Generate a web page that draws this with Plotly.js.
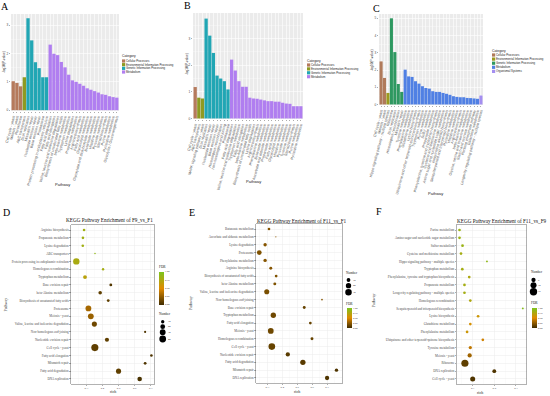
<!DOCTYPE html>
<html><head><meta charset="utf-8">
<script src="https://cdn.plot.ly/plotly-3.0.1.min.js"></script>
<style>html,body{margin:0;padding:0;background:#fff}#chart{width:550px;height:396px}</style>
</head><body><div id="chart"></div>
<script>
// ================= DATA =================
const categoryLabels = {CP:"Cellular Processes",EIP:"Environmental Information Processing",GIP:"Genetic Information Processing",M:"Metabolism",OS:"Organismal Systems"};

// Panel A
const pathwaysA = ["Cell cycle - yeast","Meiosis - yeast","Peroxisome","ABC transporters","DNA replication","Mismatch repair","Nucleotide excision repair","Base excision repair","Proteasome","Protein processing in endoplasmic reticulum","Fatty acid degradation","Fatty acid elongation","Valine, leucine and isoleucine degradation","Biosynthesis of unsaturated fatty acids","beta-Alanine metabolism","Tryptophan metabolism","Lysine degradation","Propanoate metabolism","Arginine biosynthesis","Fatty acid metabolism","Glycerolipid metabolism","Glyoxylate and dicarboxylate metabolism","Butanoate metabolism","Histidine metabolism","Pyruvate metabolism","Steroid biosynthesis","Purine metabolism","Pyrimidine metabolism","Glycolysis / Gluconeogenesis"];
const categoryA = ["CP","CP","CP","EIP","GIP","GIP","GIP","GIP","GIP","GIP","M","M","M","M","M","M","M","M","M","M","M","M","M","M","M","M","M","M","M"];
const valuesA = [1.02,0.96,0.84,1.16,3.24,2.46,1.69,1.48,1.16,1.16,2.31,1.99,1.94,1.70,1.51,1.25,1.05,1.00,0.93,0.86,0.77,0.72,0.67,0.62,0.56,0.54,0.49,0.46,0.44];
const legendCatsA = ["CP","EIP","GIP","M"];

// Panel B
const pathwaysB = ["Cell cycle - yeast","ABC transporters","MAPK signaling pathway - yeast","DNA replication","Mismatch repair","Nucleotide excision repair","Base excision repair","Homologous recombination","Non-homologous end-joining","Proteasome","Fatty acid degradation","Valine, leucine and isoleucine degradation","Tryptophan metabolism","Fatty acid elongation","beta-Alanine metabolism","Biosynthesis of unsaturated fatty acids","Lysine degradation","Arginine biosynthesis","Phenylalanine metabolism","Butanoate metabolism","Ascorbate and aldarate metabolism","Propanoate metabolism","Fatty acid metabolism","Glycerolipid metabolism","Histidine metabolism","Pyruvate metabolism","Tyrosine metabolism","Steroid biosynthesis","Purine metabolism","Pyrimidine metabolism"];
const categoryB = ["CP","EIP","EIP","GIP","GIP","GIP","GIP","GIP","GIP","GIP","M","M","M","M","M","M","M","M","M","M","M","M","M","M","M","M","M","M","M","M"];
const valuesB = [1.18,0.78,0.75,3.75,3.11,2.46,1.61,1.50,1.40,1.09,2.21,1.80,1.40,1.19,1.19,0.78,0.75,0.74,0.71,0.68,0.65,0.65,0.63,0.63,0.59,0.56,0.55,0.46,0.46,0.46];
const legendCatsB = ["CP","EIP","GIP","M"];

// Panel C
const pathwaysC = ["Cell cycle - yeast","Meiosis - yeast","Hippo signaling pathway - multiple species","Ribosome","DNA replication","Homologous recombination","Mismatch repair","Tyrosine metabolism","Phenylalanine metabolism","Glutathione metabolism","Lysine biosynthesis","Ubiquinone and other terpenoid-quinone biosynthesis","Tryptophan metabolism","Purine metabolism","Sulfur metabolism","Propanoate metabolism","Phenylalanine, tyrosine and tryptophan biosynthesis","Cysteine and methionine metabolism","Amino sugar and nucleotide sugar metabolism","Isoquinoline alkaloid biosynthesis","Sesquiterpenoid and triterpenoid biosynthesis","Pyrimidine metabolism","Histidine metabolism","Arginine biosynthesis","beta-Alanine metabolism","Glycine, serine and threonine metabolism","Starch and sucrose metabolism","Pentose phosphate pathway","Galactose metabolism","Longevity regulating pathway - multiple species"];
const categoryC = ["CP","CP","EIP","GIP","GIP","GIP","GIP","M","M","M","M","M","M","M","M","M","M","M","M","M","M","M","M","M","M","M","M","M","M","OS"];
const valuesC = [2.50,1.54,0.67,5.00,3.04,1.19,0.73,2.02,1.63,1.60,1.35,1.21,1.06,0.96,0.92,0.77,0.73,0.73,0.67,0.62,0.56,0.48,0.44,0.42,0.42,0.38,0.37,0.35,0.33,0.52];
const legendCatsC = ["CP","EIP","GIP","M","OS"];

// Panel D
const pathwaysD = ["Arginine biosynthesis","Propanoate metabolism","Lysine degradation","ABC transporters","Protein processing in endoplasmic reticulum","Homologous recombination","Tryptophan metabolism","Base excision repair","beta-Alanine metabolism","Biosynthesis of unsaturated fatty acids","Proteasome","Meiosis - yeast","Valine, leucine and isoleucine degradation","Non-homologous end-joining","Nucleotide excision repair","Cell cycle - yeast","Fatty acid elongation","Mismatch repair","Fatty acid degradation","DNA replication"];
const richD = [0.286,0.279,0.278,0.354,0.238,0.404,0.292,0.452,0.386,0.436,0.313,0.328,0.350,0.665,0.428,0.353,0.704,0.665,0.500,0.631];
const numberD = [6,6,6,2,36,5,13,7,11,7,29,29,23,4,15,44,6,7,23,18];
const fdrD = [0.82,0.82,0.82,0.9,0.78,0.8,0.7,0.06,0.1,0.1,0.32,0.28,0.15,0.05,0.1,0.1,0.05,0.05,0.1,0.03];
const richTicksD = [0.3,0.4,0.5,0.6,0.7];
const sizeBreaksD = [10,20,30,40];

// Panel E
const pathwaysE = ["Butanoate metabolism","Ascorbate and aldarate metabolism","Lysine degradation","Proteasome","Phenylalanine metabolism","Arginine biosynthesis","Biosynthesis of unsaturated fatty acids","beta-Alanine metabolism","Valine, leucine and isoleucine degradation","Non-homologous end-joining","Base excision repair","Tryptophan metabolism","Fatty acid elongation","Meiosis - yeast","Homologous recombination","Cell cycle - yeast","Nucleotide excision repair","Fatty acid degradation","Mismatch repair","DNA replication"];
const richE = [0.311,0.357,0.285,0.246,0.285,0.323,0.359,0.350,0.296,0.666,0.547,0.340,0.588,0.323,0.599,0.330,0.437,0.538,0.763,0.700];
const numberE = [5,1,8,16,8,6,5,6,18,2,6,20,5,23,6,31,13,20,8,13];
const fdrE = [0.22,0.25,0.22,0.2,0.22,0.22,0.2,0.2,0.18,0.22,0.12,0.15,0.12,0.15,0.12,0.12,0.08,0.08,0.05,0.05];
const richTicksE = [0.3,0.4,0.5,0.6,0.7];
const sizeBreaksE = [10,20,30];

// Panel F
const pathwaysF = ["Purine metabolism","Amino sugar and nucleotide sugar metabolism","Sulfur metabolism","Cysteine and methionine metabolism","Hippo signaling pathway - multiple species","Tryptophan metabolism","Phenylalanine, tyrosine and tryptophan biosynthesis","Propanoate metabolism","Longevity regulating pathway - multiple species","Homologous recombination","Sesquiterpenoid and triterpenoid biosynthesis","Lysine biosynthesis","Glutathione metabolism","Phenylalanine metabolism","Ubiquinone and other terpenoid-quinone biosynthesis","Tyrosine metabolism","Meiosis - yeast","Ribosome","DNA replication","Cell cycle - yeast"];
const richF = [0.039,0.039,0.053,0.046,0.166,0.052,0.084,0.062,0.062,0.089,0.332,0.125,0.089,0.074,0.147,0.089,0.086,0.064,0.200,0.100];
const numberF = [2,2,2,2,1,2,2,2,2,2,1,2,2,2,2,3,5,14,4,7];
const fdrF = [0.85,0.85,0.85,0.8,0.9,0.8,0.75,0.8,0.8,0.75,0.95,0.6,0.55,0.6,0.45,0.4,0.3,0.1,0.05,0.05];
const richTicksF = [0.1,0.2,0.3];
const sizeBreaksF = [5,10,15];

const fdrTicks = [0,0.25,0.5,0.75,1];

// ================= STYLE =================
const W = 550, H = 396;
const px = v => v / W;
const py = v => 1 - v / H;
const SANS = "Liberation Sans, Arial, sans-serif";
const SERIF = "Liberation Serif, Times New Roman, serif";
const paletteAB = {CP:"#b57a5c",EIP:"#8e9a22",GIP:"#21a6b4",M:"#b07ef0"};
const paletteC = {CP:"#b07a5a",EIP:"#9c9a1e",GIP:"#2e9860",M:"#5080e4",OS:"#a48ef0"};
const fdrScale = [[0,"#3f2c00"],[0.5,"#e08a00"],[1,"#7cc41e"]];

const traces = [];
const L = {width:W,height:H,margin:{l:0,r:0,t:0,b:0,pad:0},paper_bgcolor:"#ffffff",plot_bgcolor:"#ffffff",
  showlegend:false,hovermode:false,bargap:0.1,annotations:[],shapes:[]};

function ann(text,x,y,size,family,o){
  L.annotations.push(Object.assign({text:text,x:px(x),y:py(y),xref:"paper",yref:"paper",showarrow:false,
    xanchor:"left",yanchor:"middle",borderpad:0,borderwidth:0,
    font:{size:size,family:family,color:"#1a1a1a"}},o||{}));
}

// ---------- bar panels ----------
const barDefs = [
  {names:pathwaysA,cats:categoryA,vals:valuesA,pal:paletteAB,legendCats:legendCatsA,box:[11,119,14,111],yr:[-0.03,3.39],
   leg:{x:121.5,title:56,first:61,step:3.67},xt:[62,184],yt:[3.5,62.5],letter:["A",4.5,6.5]},
  {names:pathwaysB,cats:categoryB,vals:valuesB,pal:paletteAB,legendCats:legendCatsB,box:[193,303,13,119],yr:[-0.02,3.96],
   leg:{x:306.5,title:61,first:65,step:3.9},xt:[253,182],yt:[187,64],letter:["B",187.5,6]},
  {names:pathwaysC,cats:categoryC,vals:valuesC,pal:paletteC,legendCats:legendCatsC,box:[379,483,14,105],yr:[-0.03,5.25],
   leg:{x:491.5,title:50.7,first:55,step:4.1},xt:[435,193],yt:[372.3,60],letter:["C",376,8.5]}
];

barDefs.forEach((d,i)=>{
  const k = i+1, xs = k===1?"x":"x"+k, ys = k===1?"y":"y"+k, sfx = k===1?"":String(k);
  traces.push({type:"bar",x:d.names,y:d.vals,xaxis:xs,yaxis:ys,width:0.9,
    marker:{color:d.cats.map(c=>d.pal[c]),line:{width:0}},showlegend:false,hoverinfo:"none"});
  const [l,r,t,b] = d.box;
  L.shapes.push({type:"rect",xref:"paper",yref:"paper",x0:px(l),x1:px(r),y0:py(b),y1:py(t),
    fillcolor:"#ebebeb",line:{width:0},layer:"below"});
  L["xaxis"+sfx] = {domain:[px(l),px(r)],anchor:ys,type:"category",range:[-0.6,d.names.length-0.4],
    tickmode:"linear",tick0:0,dtick:1,tickangle:-75,tickfont:{family:SANS,size:3.7,color:"#4d4d4d"},
    ticks:"outside",ticklen:1.2,tickwidth:0.4,tickcolor:"#333",showgrid:true,gridcolor:"#ffffff",gridwidth:0.6,
    zeroline:false,showline:false,fixedrange:true};
  L["yaxis"+sfx] = {domain:[py(b),py(t)],anchor:xs,range:d.yr,tickmode:"linear",tick0:0,dtick:1,
    tickfont:{family:SANS,size:3.2,color:"#4d4d4d"},ticks:"outside",ticklen:1.2,tickwidth:0.4,tickcolor:"#333",
    showgrid:true,gridcolor:"#ffffff",gridwidth:0.6,minor:{showgrid:true,dtick:0.5,gridcolor:"#ffffff",gridwidth:0.3},
    zeroline:false,showline:false,fixedrange:true};
  ann("Category",d.leg.x,d.leg.title,3.4,SANS);
  d.legendCats.forEach((c,j)=>{
    const yc = d.leg.first + d.leg.step*j;
    L.shapes.push({type:"rect",xref:"paper",yref:"paper",x0:px(d.leg.x+0.5),x1:px(d.leg.x+3.7),
      y0:py(yc+1.6),y1:py(yc-1.6),fillcolor:d.pal[c],line:{width:0}});
    ann(categoryLabels[c],d.leg.x+4.8,yc,2.8,SANS);
  });
  ann("Pathway",d.xt[0],d.xt[1],4,SANS,{xanchor:"center"});
  ann("-log10(P-value)",d.yt[0],d.yt[1],3.2,SANS,{xanchor:"center",textangle:-90});
  ann(d.letter[0],d.letter[1],d.letter[2],10,SERIF,{xanchor:"center",font:{size:10,family:SERIF,color:"#000"}});
});

// ---------- dot panels ----------
const dotDefs = [
  {names:pathwaysD,rich:richD,num:numberD,fdr:fdrD,ticks:richTicksD,sizeref:1.75,box:[71,154,225,384],xr:[0.205,0.72],
   title:"KEGG Pathway Enrichment of F9_vs_F1",titlePos:[66,220],letter:["D",6.5,212.5],yt:[4.5,305],xt:[113,391],
   cb:{x:159.3,top:271.5,len:33,titleY:266.5},sl:{titleX:159,titleY:314,cx:162.7,ys:[321.7,326.7,332.3,339],lx:168.3,vals:sizeBreaksD}},
  {names:pathwaysE,rich:richE,num:numberE,fdr:fdrE,ticks:richTicksE,sizeref:1.4,box:[256,342,224,383],xr:[0.224,0.80],
   title:"KEGG Pathway Enrichment of F11_vs_F1",titlePos:[257,221],letter:["E",191.5,212.5],yt:[190,303],xt:[297,391],
   cb:{x:346.7,top:308.3,len:20,titleY:303.5},sl:{titleX:346,titleY:272.5,cx:348.5,ys:[280,285.7,292.3],lx:353.3,vals:sizeBreaksE}},
  {names:pathwaysF,rich:richF,num:numberF,fdr:fdrF,ticks:richTicksF,sizeref:0.55,box:[456.7,526.7,225,384],xr:[0.026,0.35],
   title:"KEGG Pathway Enrichment of F11_vs_F9",titlePos:[457,221],letter:["F",378.5,211.5],yt:[373.3,300],xt:[480,392],
   cb:{x:531.7,top:308.3,len:20,titleY:303.3},sl:{titleX:531,titleY:272,cx:533.5,ys:[280,285.3,291.7],lx:538.3,vals:sizeBreaksF}}
];

dotDefs.forEach((d,i)=>{
  const k = i+4, xs = "x"+k, ys = "y"+k, ca = i===0?"coloraxis":"coloraxis"+(i+1);
  traces.push({type:"scatter",mode:"markers",x:d.rich,y:d.names,xaxis:xs,yaxis:ys,cliponaxis:false,hoverinfo:"none",
    marker:{size:d.num,sizemode:"area",sizeref:d.sizeref,sizemin:0,color:d.fdr,coloraxis:ca,line:{width:0},opacity:1}});
  const [l,r,t,b] = d.box;
  const minor = d.ticks.map(v=>+(v-0.05).toFixed(3)).concat([+(d.ticks[d.ticks.length-1]+0.05).toFixed(3)]);
  L["xaxis"+k] = {domain:[px(l),px(r)],anchor:ys,range:d.xr,tickmode:"array",tickvals:d.ticks,ticktext:d.ticks.map(v=>v.toFixed(1)),
    tickfont:{family:SERIF,size:2.8,color:"#4d4d4d"},ticks:"outside",ticklen:1.2,tickwidth:0.4,tickcolor:"#333",
    showgrid:true,gridcolor:"#ebebeb",gridwidth:0.5,
    minor:{tickmode:"array",tickvals:minor,showgrid:true,gridcolor:"#f3f3f3",gridwidth:0.3,ticks:""},
    showline:true,mirror:true,linecolor:"#666",linewidth:0.5,zeroline:false,fixedrange:true};
  L["yaxis"+k] = {domain:[py(b),py(t)],anchor:xs,type:"category",categoryorder:"array",categoryarray:d.names,
    range:[d.names.length-0.36,-0.64],tickmode:"linear",tick0:0,dtick:1,
    tickfont:{family:SERIF,size:3.2,color:"#4d4d4d"},ticks:"outside",ticklen:1.2,tickwidth:0.4,tickcolor:"#333",
    showgrid:true,gridcolor:"#ebebeb",gridwidth:0.5,showline:true,mirror:true,linecolor:"#666",linewidth:0.5,
    zeroline:false,fixedrange:true};
  L[ca] = {cmin:0,cmax:1,colorscale:fdrScale,showscale:true,
    colorbar:{x:px(d.cb.x),xanchor:"left",y:py(d.cb.top),yanchor:"top",len:d.cb.len,lenmode:"pixels",
      thickness:4.5,thicknessmode:"pixels",xpad:0,ypad:0,outlinewidth:0,borderwidth:0,
      tickmode:"array",tickvals:fdrTicks,ticktext:fdrTicks.map(v=>v.toFixed(2)),ticks:"",
      tickfont:{family:SERIF,size:2.6,color:"#333"},title:{text:""}}};
  ann("FDR",d.cb.x-0.3,d.cb.titleY,3.4,SERIF);
  ann("Number",d.sl.titleX,d.sl.titleY,3.4,SERIF);
  d.sl.vals.forEach((v,j)=>{
    const rr = Math.sqrt(v/(2*d.sizeref));
    L.shapes.push({type:"circle",xref:"paper",yref:"paper",xsizemode:"pixel",ysizemode:"pixel",
      xanchor:px(d.sl.cx),yanchor:py(d.sl.ys[j]),x0:-rr,x1:rr,y0:-rr,y1:rr,fillcolor:"#000",line:{width:0}});
    ann(String(v),d.sl.lx,d.sl.ys[j],2.6,SERIF);
  });
  ann(d.title,d.titlePos[0],d.titlePos[1],5.2,SERIF,{font:{size:5.2,family:SERIF,color:"#111"}});
  ann("Pathway",d.yt[0],d.yt[1],4,SERIF,{xanchor:"center",textangle:-90});
  ann("rich",d.xt[0],d.xt[1],4,SERIF,{xanchor:"center"});
  ann(d.letter[0],d.letter[1],d.letter[2],10,SERIF,{xanchor:"center",font:{size:10,family:SERIF,color:"#000"}});
});

Plotly.newPlot("chart",traces,L,{staticPlot:true,displayModeBar:false});
</script>
</body></html>
